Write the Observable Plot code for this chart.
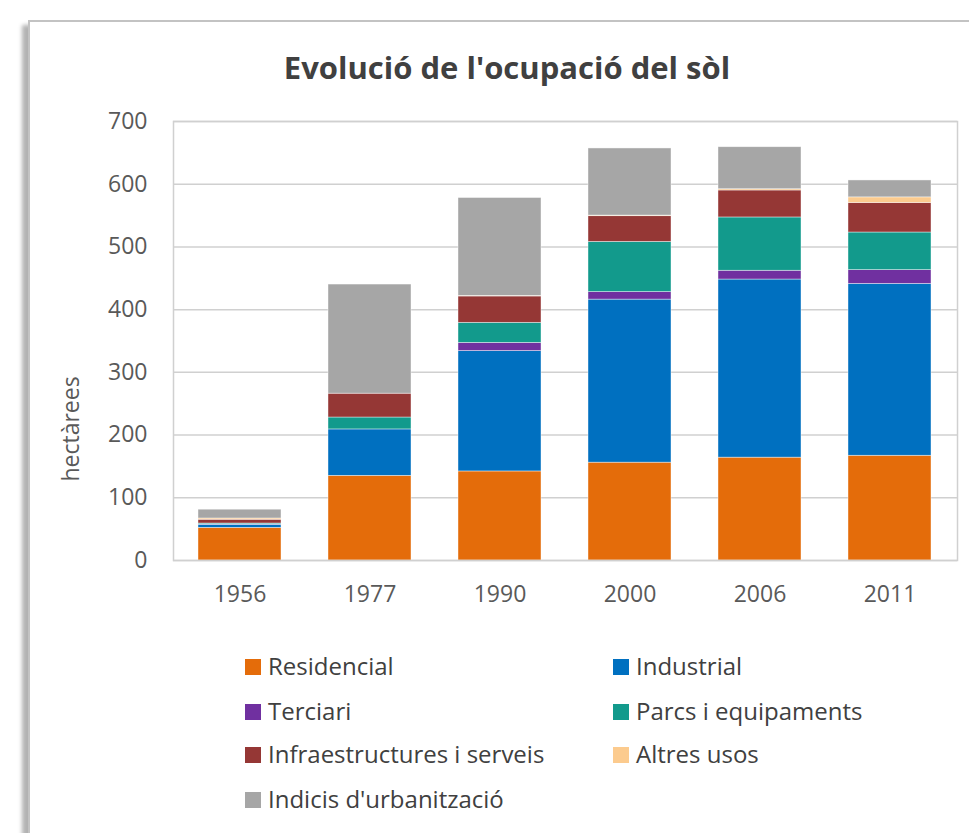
<!DOCTYPE html>
<html>
<head>
<meta charset="utf-8">
<script src="https://cdn.jsdelivr.net/npm/d3@7"></script>
<script src="https://cdn.jsdelivr.net/npm/@observablehq/plot@0.6"></script>
<style>
  html, body { margin: 0; padding: 0; background: #fff; width: 969px; height: 833px; overflow: hidden; }
  #frame { position: absolute; left: 28px; top: 20px; width: 980px; height: 900px; border: 2px solid #c3c3c3; box-shadow: -6px 5px 4px rgba(0,0,0,0.30); background: #fff; }
  #title { position: absolute; left: 0; width: 1014px; top: 46px; text-align: center; font-family: "Open Sans", sans-serif; font-weight: 700; font-size: 31px; color: #404040; }
  #chart { position: absolute; left: 0; top: 0; }
  #ylabel { position: absolute; left: 70px; top: 429px; transform: translate(-50%, -50%) rotate(-90deg); font-family: "Open Sans", sans-serif; font-size: 23px; color: #595959; white-space: nowrap; }
  .leg { position: absolute; font-family: "Open Sans", sans-serif; font-size: 24px; color: #404040; white-space: nowrap; }
  .sw { position: absolute; width: 16px; height: 16px; }
</style>
</head>
<body>
<div id="frame"></div>
<div id="title">Evolució de l'ocupació del sòl</div>
<div id="chart"></div>
<div id="ylabel"></div>
<div id="legend"></div>
<script>
const years = ["1956", "1977", "1990", "2000", "2006", "2011"];
const seriesNames = ["Residencial", "Industrial", "Terciari", "Parcs i equipaments", "Infraestructures i serveis", "Altres usos", "Indicis d'urbanització"];
const seriesColors = ["#E46C0A", "#0070C0", "#7030A0", "#129A8C", "#953735", "#FCCB8E", "#A6A6A6"];
const residencial   = [52, 135, 142, 156, 164, 167];
const industrial    = [5, 74, 192, 260, 284, 274];
const terciari      = [0.5, 0, 13, 12, 14, 22];
const parcs         = [1.5, 19, 32, 80, 85, 60];
const infra         = [6, 38, 42, 41, 43, 47];
const altres        = [2, 0, 1, 1, 2, 9];
const indicis       = [14, 174, 156, 107, 67, 27];
const yTicks = [0, 100, 200, 300, 400, 500, 600, 700];
const yLabel = "hectàrees";

const seriesValues = [residencial, industrial, terciari, parcs, infra, altres, indicis];
const data = [];
seriesNames.forEach((s, si) => {
  years.forEach((y, yi) => data.push({year: y, series: s, value: seriesValues[si][yi]}));
});

const chart = Plot.plot({
  width: 969,
  height: 625,
  marginLeft: 173,
  marginRight: 12,
  marginTop: 121,
  marginBottom: 65,
  style: {fontFamily: "Open Sans, sans-serif", fontSize: "23px", color: "#595959", background: "transparent"},
  x: {domain: years, paddingInner: 0.358, paddingOuter: 0.176, label: null},
  y: {domain: [0, 700], label: null},
  color: {domain: seriesNames, range: seriesColors},
  marks: [
    Plot.gridY(yTicks, {stroke: "#d0d0d0", strokeOpacity: 1, strokeWidth: 1.5}),
    Plot.barY(data, {x: "year", y: "value", fill: "series", order: seriesNames, stroke: "white", strokeWidth: 0.7, strokeOpacity: 0.6}),
    Plot.frame({stroke: "#d0d0d0", strokeWidth: 1.5}),
    Plot.axisY(yTicks, {tickSize: 0, tickPadding: 26, fill: "#595959"}),
    Plot.axisX({tickSize: 0, tickPadding: 25, fill: "#595959"})
  ]
});
document.getElementById("chart").appendChild(chart);
document.getElementById("ylabel").textContent = yLabel;

const legend = document.getElementById("legend");
const rowsY = [667, 712, 755, 800];
const colsX = [245, 613];
seriesNames.forEach((s, i) => {
  const col = i % 2, row = Math.floor(i / 2);
  const sw = document.createElement("div");
  sw.className = "sw";
  sw.style.left = colsX[col] + "px";
  sw.style.top = (rowsY[row] - 8) + "px";
  sw.style.background = seriesColors[i];
  legend.appendChild(sw);
  const t = document.createElement("div");
  t.className = "leg";
  t.textContent = s;
  t.style.left = (colsX[col] + 23) + "px";
  t.style.top = (rowsY[row] - 18) + "px";
  legend.appendChild(t);
});
</script>
</body>
</html>
